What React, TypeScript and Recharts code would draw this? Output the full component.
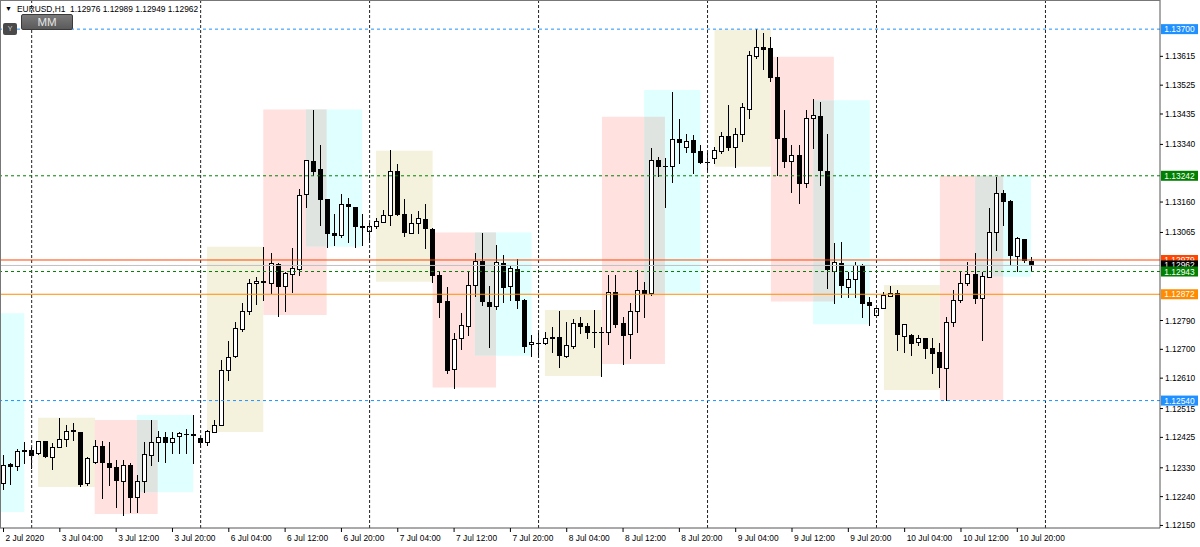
import React from 'react';
import { ComposedChart, Bar, XAxis, YAxis, ReferenceLine, ReferenceArea } from 'recharts';

// ---- candle data (EURUSD H1, bar 0 = 2 Jul 2020 20:00) ----
const opens = [
  1.12283, 1.12342, 1.12336, 1.12383, 1.12386, 1.12376, 1.12414, 1.12365, 1.12396, 1.12420,
  1.12447, 1.12442, 1.12283, 1.12348, 1.12398, 1.12345, 1.12334, 1.12290, 1.12339, 1.12240,
  1.12290, 1.12370, 1.12412, 1.12426, 1.12412, 1.12429, 1.12436, 1.12435, 1.12422, 1.12412,
  1.12443, 1.12464, 1.12637, 1.12679, 1.12764, 1.12821, 1.12906, 1.12912, 1.12908, 1.12966,
  1.12898, 1.12934, 1.12950, 1.13184, 1.13289, 1.13263, 1.13169, 1.13062, 1.13057, 1.13153,
  1.13143, 1.13085, 1.13069, 1.13086, 1.13098, 1.13119, 1.13257, 1.13122, 1.13063, 1.13093,
  1.13108, 1.13075, 1.12932, 1.12852, 1.12639, 1.12734, 1.12773, 1.12901, 1.12977, 1.12849,
  1.12836, 1.12970, 1.12899, 1.12950, 1.12854, 1.12716, 1.12720, 1.12719, 1.12734, 1.12739,
  1.12679, 1.12710, 1.12781, 1.12773, 1.12755, 1.12755, 1.12755, 1.12880, 1.12783, 1.12747,
  1.12820, 1.12885, 1.12875, 1.13291, 1.13273, 1.13272, 1.13356, 1.13333, 1.13353, 1.13318,
  1.13286, 1.13296, 1.13320, 1.13366, 1.13331, 1.13374, 1.13452, 1.13616, 1.13645, 1.13640,
  1.13551, 1.13359, 1.13289, 1.13307, 1.13218, 1.13424, 1.13429, 1.13258, 1.12945, 1.12970,
  1.12895, 1.12919, 1.12963, 1.12849, 1.12807, 1.12830, 1.12867, 1.12877, 1.12742, 1.12745,
  1.12722, 1.12734, 1.12705, 1.12691, 1.12643, 1.12786, 1.12854, 1.12906, 1.12934, 1.12859,
  1.12927, 1.13067, 1.13187, 1.13163, 1.12992, 1.13044, 1.12976,
];
const highs = [
  1.12370, 1.12345, 1.12389, 1.12412, 1.12396, 1.12415, 1.12415, 1.12408, 1.12486, 1.12464,
  1.12470, 1.12443, 1.12365, 1.12417, 1.12415, 1.12412, 1.12354, 1.12354, 1.12345, 1.12308,
  1.12412, 1.12479, 1.12446, 1.12443, 1.12443, 1.12443, 1.12451, 1.12495, 1.12429, 1.12448,
  1.12479, 1.12667, 1.12727, 1.12786, 1.12845, 1.12920, 1.12927, 1.13020, 1.13000, 1.12969,
  1.12942, 1.13015, 1.13200, 1.13292, 1.13449, 1.13338, 1.13171, 1.13122, 1.13185, 1.13173,
  1.13145, 1.13122, 1.13093, 1.13109, 1.13135, 1.13322, 1.13279, 1.13168, 1.13122, 1.13133,
  1.13154, 1.13078, 1.12942, 1.12895, 1.12750, 1.12814, 1.12942, 1.13000, 1.13064, 1.12898,
  1.13026, 1.12994, 1.12960, 1.12981, 1.12856, 1.12745, 1.12751, 1.12755, 1.12771, 1.12821,
  1.12786, 1.12794, 1.12800, 1.12781, 1.12823, 1.12771, 1.12932, 1.12932, 1.12800, 1.12844,
  1.12948, 1.12911, 1.13328, 1.13301, 1.13296, 1.13504, 1.13418, 1.13374, 1.13369, 1.13338,
  1.13312, 1.13333, 1.13379, 1.13463, 1.13390, 1.13468, 1.13632, 1.13699, 1.13687, 1.13676,
  1.13612, 1.13447, 1.13338, 1.13338, 1.13449, 1.13481, 1.13473, 1.13374, 1.13033, 1.13036,
  1.12942, 1.12974, 1.12966, 1.12864, 1.12838, 1.12880, 1.12899, 1.12885, 1.12779, 1.12747,
  1.12745, 1.12736, 1.12736, 1.12719, 1.12802, 1.12885, 1.12944, 1.12972, 1.13000, 1.12942,
  1.13140, 1.13239, 1.13197, 1.13166, 1.13052, 1.13045, 1.12989,
];
const lows = [
  1.12264, 1.12280, 1.12323, 1.12345, 1.12329, 1.12373, 1.12364, 1.12326, 1.12395, 1.12398,
  1.12417, 1.12273, 1.12276, 1.12346, 1.12236, 1.12276, 1.12209, 1.12183, 1.12193, 1.12193,
  1.12255, 1.12339, 1.12351, 1.12349, 1.12376, 1.12377, 1.12377, 1.12344, 1.12396, 1.12401,
  1.12442, 1.12463, 1.12604, 1.12677, 1.12758, 1.12810, 1.12841, 1.12854, 1.12877, 1.12804,
  1.12821, 1.12880, 1.12932, 1.13145, 1.13244, 1.13088, 1.13020, 1.13026, 1.13052, 1.13036,
  1.13020, 1.13026, 1.13036, 1.13078, 1.13097, 1.13088, 1.13119, 1.13055, 1.13062, 1.13062,
  1.13015, 1.12911, 1.12802, 1.12625, 1.12578, 1.12700, 1.12745, 1.12866, 1.12838, 1.12708,
  1.12825, 1.12849, 1.12854, 1.12828, 1.12691, 1.12679, 1.12676, 1.12716, 1.12693, 1.12646,
  1.12677, 1.12703, 1.12750, 1.12734, 1.12708, 1.12617, 1.12716, 1.12771, 1.12654, 1.12672,
  1.12755, 1.12802, 1.12870, 1.13241, 1.13145, 1.13223, 1.13283, 1.13317, 1.13251, 1.13283,
  1.13260, 1.13283, 1.13312, 1.13322, 1.13270, 1.13351, 1.13421, 1.13609, 1.13577, 1.13539,
  1.13244, 1.13270, 1.13192, 1.13156, 1.13208, 1.13328, 1.13213, 1.12890, 1.12846, 1.12864,
  1.12864, 1.12864, 1.12802, 1.12776, 1.12802, 1.12828, 1.12866, 1.12698, 1.12691, 1.12682,
  1.12713, 1.12672, 1.12625, 1.12583, 1.12542, 1.12774, 1.12849, 1.12901, 1.12844, 1.12729,
  1.12925, 1.13010, 1.13088, 1.12963, 1.12944, 1.12972, 1.12949,
];
const closes = [
  1.12339, 1.12336, 1.12383, 1.12385, 1.12370, 1.12414, 1.12368, 1.12396, 1.12421, 1.12445,
  1.12444, 1.12279, 1.12361, 1.12398, 1.12349, 1.12333, 1.12292, 1.12339, 1.12239, 1.12289,
  1.12373, 1.12412, 1.12426, 1.12412, 1.12423, 1.12439, 1.12435, 1.12434, 1.12412, 1.12445,
  1.12464, 1.12635, 1.12677, 1.12767, 1.12821, 1.12908, 1.12913, 1.12910, 1.12969, 1.12898,
  1.12939, 1.12953, 1.13182, 1.13291, 1.13258, 1.13168, 1.13064, 1.13057, 1.13154, 1.13147,
  1.13085, 1.13081, 1.13085, 1.13101, 1.13119, 1.13257, 1.13122, 1.13066, 1.13093, 1.13111,
  1.13078, 1.12932, 1.12849, 1.12635, 1.12733, 1.12775, 1.12901, 1.12977, 1.12851, 1.12836,
  1.12973, 1.12895, 1.12953, 1.12854, 1.12710, 1.12724, 1.12719, 1.12734, 1.12739, 1.12682,
  1.12713, 1.12783, 1.12774, 1.12755, 1.12754, 1.12753, 1.12880, 1.12779, 1.12745, 1.12820,
  1.12885, 1.12875, 1.13291, 1.13272, 1.13272, 1.13356, 1.13347, 1.13350, 1.13317, 1.13286,
  1.13285, 1.13321, 1.13366, 1.13331, 1.13374, 1.13457, 1.13619, 1.13645, 1.13639, 1.13549,
  1.13359, 1.13289, 1.13307, 1.13218, 1.13421, 1.13432, 1.13260, 1.12950, 1.12974, 1.12901,
  1.12919, 1.12963, 1.12844, 1.12838, 1.12828, 1.12870, 1.12875, 1.12747, 1.12778, 1.12719,
  1.12734, 1.12705, 1.12688, 1.12646, 1.12786, 1.12854, 1.12906, 1.12934, 1.12859, 1.12930,
  1.13067, 1.13187, 1.13163, 1.12994, 1.13047, 1.12979, 1.12962,
];

// ---- axis labels ----
const timeLabels = [
  '2 Jul 2020', '3 Jul 04:00', '3 Jul 12:00', '3 Jul 20:00', '6 Jul 04:00', '6 Jul 12:00',
  '6 Jul 20:00', '7 Jul 04:00', '7 Jul 12:00', '7 Jul 20:00', '8 Jul 04:00', '8 Jul 12:00',
  '8 Jul 20:00', '9 Jul 04:00', '9 Jul 12:00', '9 Jul 20:00', '10 Jul 04:00', '10 Jul 12:00',
  '10 Jul 20:00',
];
const timeLabelBars = [0, 8, 16, 24, 32, 40, 48, 56, 64, 72, 80, 88, 96, 104, 112, 120, 128, 136, 144];
const daySeparatorBars = [4, 28, 52, 76, 100, 124, 148];
const priceTicks = [
  1.13615, 1.13525, 1.13435, 1.1334, 1.1316, 1.13065, 1.1279, 1.127, 1.1261, 1.12515,
  1.12425, 1.1233, 1.1224, 1.1215,
];

// ---- session boxes ----
const sessionKinds = [
  'cyan', 'beige', 'pink', 'cyan', 'beige', 'pink', 'cyan', 'beige', 'pink', 'cyan',
  'beige', 'pink', 'cyan', 'beige', 'pink', 'cyan', 'beige', 'pink', 'cyan',
];
const sessionFrom = [-5, 4.9, 12.95, 18.95, 28.9, 36.9, 42.95, 52.9, 60.95, 66.95, 76.9, 85.0, 91.0, 101.0, 109.0, 115.0, 125.05, 133.0, 138.0];
const sessionTo = [2.95, 13.0, 21.9, 26.95, 36.9, 45.9, 50.95, 60.95, 69.95, 75.0, 84.95, 93.95, 99.0, 109.0, 117.95, 123.05, 133.0, 142.0, 145.95];
const sessionHigh = [1.12813, 1.12486, 1.12479, 1.12495, 1.1302, 1.13449, 1.13449, 1.1332, 1.13065, 1.13065, 1.12823, 1.13426, 1.1351, 1.13699, 1.13614, 1.13478, 1.12901, 1.13242, 1.13242];
const sessionLow = [1.12192, 1.1227, 1.12186, 1.12254, 1.12442, 1.12807, 1.1302, 1.12911, 1.12581, 1.1268, 1.12617, 1.12654, 1.12875, 1.1327, 1.12849, 1.12778, 1.12573, 1.12542, 1.12927];

// ---- horizontal levels ----
const levelPrices = [1.137, 1.1254, 1.13242, 1.12872, 1.12979, 1.12962, 1.12943];

const symbolTitle = 'EURUSD,H1';

// ---- styles ----
const FONT = '"Liberation Sans", Arial, sans-serif';
const FS = 8.4;
const sessionColors: Record<string, string> = { beige: '#F4F2DC', pink: '#FFE2E0', cyan: '#E0FFFF' };
const overlapColor = '#E0E4E1';
const levelStyles = [
  { line: '#1E90FF', tag: '#1E90FF', dash: '3 3' },
  { line: '#1E90FF', tag: '#1E90FF', dash: '3 3' },
  { line: '#008000', tag: '#008000', dash: '3 3' },
  { line: '#FF8C00', tag: '#FF8C00', dash: undefined },
  { line: '#FF4500', tag: '#FF4500', dash: undefined },
  { line: '#C0C0C0', tag: '#000000', dash: undefined },
  { line: '#008000', tag: '#008000', dash: '3 3' },
];

const W = 1200;
const H = 547;
const X_DOMAIN: [number, number] = [-0.5, 164.27];
const Y_DOMAIN: [number, number] = [1.12142, 1.13791];

const data = opens.map((o, i) => ({ i, o, h: highs[i], l: lows[i], c: closes[i] }));

function Candle(props: any) {
  const { x, y, width, height, payload } = props;
  if (!payload || x == null || y == null) return null;
  const { o, h, l, c } = payload;
  const yHi = Math.min(y, y + height);
  const yLo = Math.max(y, y + height);
  const k = h > l ? (yLo - yHi) / (h - l) : 0;
  const toY = (p: number) => yHi + (h - p) * k;
  const cx = Math.floor(x + width / 2) + 0.5;
  const top = Math.round(toY(Math.max(o, c)));
  const bot = Math.round(toY(Math.min(o, c)));
  const bull = c > o;
  return (
    <g>
      <line x1={cx} x2={cx} y1={Math.round(yHi)} y2={Math.round(yLo) + 1} stroke="#000" strokeWidth={1} />
      {bot - top < 1 ? (
        <line x1={cx - 2.5} x2={cx + 2.5} y1={top + 0.5} y2={top + 0.5} stroke="#000" strokeWidth={1} />
      ) : (
        <rect x={cx - 2} y={top + 0.5} width={4} height={bot - top} fill={bull ? '#fff' : '#000'} stroke="#000" strokeWidth={1} />
      )}
    </g>
  );
}

function TimeTick(props: any) {
  const { x, y, payload } = props;
  const idx = timeLabelBars.indexOf(payload.value);
  return (
    <text x={x + 2} y={y + 7} fontSize={FS} fontFamily={FONT} fill="#000">
      {timeLabels[idx]}
    </text>
  );
}

function PriceTick(props: any) {
  const { x, y, payload } = props;
  return (
    <text x={x} y={y + 3} fontSize={FS} fontFamily={FONT} fill="#000">
      {Number(payload.value).toFixed(5)}
    </text>
  );
}

const makeTag = (price: number, bg: string) => (props: any) => {
  const vb = props.viewBox || {};
  const x = (vb.x ?? 0) + (vb.width ?? 0) + 1;
  const y = vb.y ?? 0;
  return (
    <g>
      <rect x={x} y={y - 5} width={37} height={10} fill={bg} />
      <text x={x + 18.5} y={y + 3} textAnchor="middle" fontSize={FS} fontFamily={FONT} fill="#fff">
        {price.toFixed(5)}
      </text>
    </g>
  );
};

// overlap of each pink box with the following cyan box
const overlaps: { x1: number; x2: number; y1: number; y2: number }[] = [];
for (let s = 0; s < sessionKinds.length - 1; s++) {
  if (sessionKinds[s] === 'pink' && sessionKinds[s + 1] === 'cyan') {
    const x1 = Math.max(sessionFrom[s], sessionFrom[s + 1]);
    const x2 = Math.min(sessionTo[s], sessionTo[s + 1]);
    const y2 = Math.min(sessionHigh[s], sessionHigh[s + 1]);
    const y1 = Math.max(sessionLow[s], sessionLow[s + 1]);
    if (x2 > x1 && y2 > y1) overlaps.push({ x1, x2, y1, y2 });
  }
}

export default function App() {
  const last = opens.length - 1;
  const title = `${symbolTitle}  ${opens[last].toFixed(5)} ${highs[last].toFixed(5)} ${lows[last].toFixed(5)} ${closes[last].toFixed(5)}`;
  return (
    <div style={{ position: 'absolute', left: 0, top: 0, width: W, height: H, background: '#fff', overflow: 'hidden' }}>
      <ComposedChart width={W} height={H} data={data} margin={{ top: 0, right: 0, bottom: 0, left: 0 }}>
        <XAxis
          dataKey="i"
          type="number"
          domain={X_DOMAIN}
          allowDataOverflow
          ticks={timeLabelBars}
          interval={0}
          height={19}
          tickSize={4}
          tickMargin={2}
          tickLine={{ stroke: '#000' }}
          axisLine={{ stroke: '#555' }}
          tick={<TimeTick />}
        />
        <YAxis
          orientation="right"
          type="number"
          domain={Y_DOMAIN}
          allowDataOverflow
          ticks={priceTicks}
          interval={0}
          width={40}
          tickSize={3}
          tickMargin={2}
          tickLine={{ stroke: '#000' }}
          axisLine={{ stroke: '#555' }}
          tick={<PriceTick />}
        />
        {sessionKinds.map((kind, s) => (
          <ReferenceArea
            key={`s${s}`}
            x1={sessionFrom[s]}
            x2={sessionTo[s]}
            y1={sessionLow[s]}
            y2={sessionHigh[s]}
            fill={sessionColors[kind]}
            fillOpacity={1}
            stroke="none"
            ifOverflow="hidden"
          />
        ))}
        {overlaps.map((o, k) => (
          <ReferenceArea
            key={`o${k}`}
            x1={o.x1}
            x2={o.x2}
            y1={o.y1}
            y2={o.y2}
            fill={overlapColor}
            fillOpacity={1}
            stroke="none"
            ifOverflow="hidden"
          />
        ))}
        {daySeparatorBars.map((b) => (
          <ReferenceLine key={`d${b}`} x={b} stroke="#222" strokeDasharray="3 2" strokeWidth={1} />
        ))}
        {levelPrices.map((p, k) => (
          <ReferenceLine
            key={`l${k}`}
            y={p}
            stroke={levelStyles[k].line}
            strokeDasharray={levelStyles[k].dash}
            strokeWidth={1}
            label={makeTag(p, levelStyles[k].tag)}
          />
        ))}
        <Bar dataKey={(d: any) => [d.l, d.h]} barSize={5} shape={<Candle />} isAnimationActive={false} />
      </ComposedChart>
      {/* frame */}
      <div style={{ position: 'absolute', left: 0, top: 0, width: 1160, height: 528, borderLeft: '1px solid #777', borderTop: '1px solid #777', boxSizing: 'border-box', pointerEvents: 'none' }} />
      {/* header */}
      <div style={{ position: 'absolute', left: 5, top: 4, fontFamily: FONT, fontSize: 7, color: '#000', lineHeight: '9px' }}>▼</div>
      <div style={{ position: 'absolute', left: 17, top: 4, fontFamily: FONT, fontSize: FS, color: '#000', lineHeight: '10px', whiteSpace: 'pre' }}>{title}</div>
      <div style={{ position: 'absolute', left: 3, top: 23, width: 14, height: 12, background: '#4a4a4a', borderRadius: 2, color: '#ccc', fontFamily: FONT, fontSize: 7, lineHeight: '12px', textAlign: 'center' }}>Y</div>
      <div style={{ position: 'absolute', left: 21, top: 14, width: 52, height: 16, boxSizing: 'border-box', background: 'linear-gradient(#7a7a7a, #5a5a5a)', border: '1px solid #3a3a3a', borderRadius: 2, color: '#e6e6e6', fontFamily: FONT, fontSize: 11.5, lineHeight: '14px', textAlign: 'center' }}>MM</div>
    </div>
  );
}
